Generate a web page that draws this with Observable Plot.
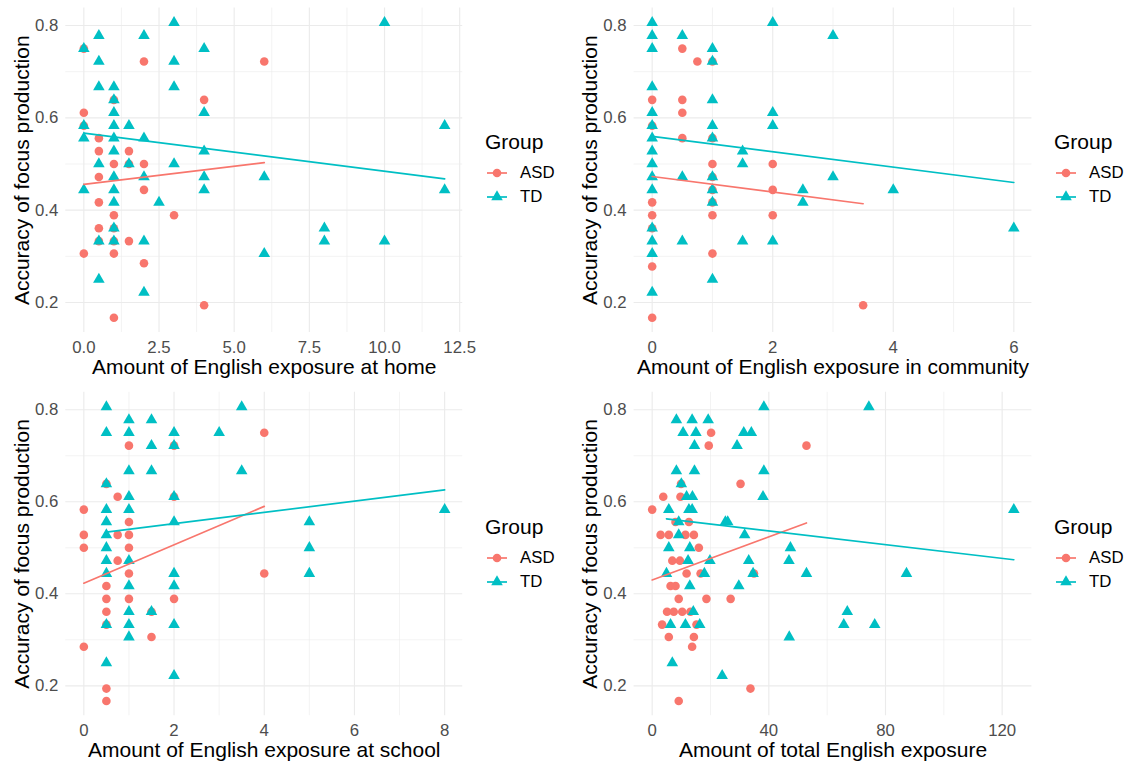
<!DOCTYPE html>
<html>
<head>
<meta charset="utf-8">
<script src="https://cdn.jsdelivr.net/npm/d3@7"></script>
<script src="https://cdn.jsdelivr.net/npm/@observablehq/plot@0.6"></script>
<style>
  html, body { margin: 0; padding: 0; background: white; }
  #root { position: relative; width: 1132px; height: 769px; overflow: hidden; font-family: "Liberation Sans", Arial, sans-serif; }
  .pnl { position: absolute; }
  .lg { position: absolute; font-family: "Liberation Sans", Arial, sans-serif; }
  .lg span { position: absolute; white-space: nowrap; transform: translateY(-50%); }
  .lg svg { position: absolute; transform: translateY(-50%); overflow: visible; }
</style>
</head>
<body>
<div id="root"></div>
<script>
// ---------- data (x = exposure, y = accuracy) ----------
const groups = ["ASD", "TD"];
const groupColors = ["#F8766D", "#00BFC4"];
const yTitle = "Accuracy of focus production";
const yTicks = [0.2, 0.4, 0.6, 0.8];
const yMinor = [0.3, 0.5, 0.7];

// Panel 1: home
const homeASD = [[0,0.75],[2,0.722],[6,0.722],[1,0.639],[4,0.639],[0,0.611],[0,0.583],[0.5,0.556],[0.5,0.528],[1.5,0.528],[1,0.5],[1.5,0.5],[2,0.5],[0.5,0.472],[2,0.444],[0.5,0.417],[1,0.389],[3,0.389],[0.5,0.361],[1,0.361],[0.5,0.333],[1,0.333],[1.5,0.333],[0,0.306],[1,0.306],[2,0.285],[4,0.194],[1,0.167]];
const homeTD = [[3,0.806],[10,0.806],[0.5,0.778],[2,0.778],[0,0.75],[4,0.75],[0.5,0.722],[3,0.722],[0.5,0.667],[1,0.667],[3,0.667],[1,0.639],[1,0.611],[4,0.611],[0,0.583],[1,0.583],[1.5,0.583],[12,0.583],[0,0.556],[1,0.556],[2,0.556],[1,0.528],[4,0.528],[0.5,0.5],[1.5,0.5],[3,0.5],[1,0.472],[2,0.472],[4,0.472],[6,0.472],[0,0.444],[1,0.444],[4,0.444],[12,0.444],[1,0.417],[2.5,0.417],[1,0.361],[8,0.361],[0.5,0.333],[1,0.333],[2,0.333],[8,0.333],[10,0.333],[6,0.306],[0.5,0.25],[2,0.222]];
const homeFitASD = [[0,0.456],[6,0.503]];
const homeFitTD = [[0,0.567],[12,0.468]];
const homeTicks = [0, 2.5, 5, 7.5, 10, 12.5];
const homeMinor = [1.25, 3.75, 6.25, 8.75, 11.25];

// Panel 2: community
const commASD = [[0.5,0.75],[0.75,0.722],[1,0.722],[0,0.639],[0.5,0.639],[0.5,0.611],[0,0.583],[0.5,0.556],[1,0.556],[1,0.5],[2,0.5],[1,0.472],[2,0.444],[1,0.444],[0,0.417],[1,0.417],[0,0.389],[1,0.389],[2,0.389],[0,0.361],[1,0.306],[0,0.278],[3.5,0.194],[0,0.167]];
const commTD = [[0,0.806],[2,0.806],[0,0.778],[0.5,0.778],[3,0.778],[0,0.75],[1,0.75],[1,0.722],[0,0.667],[1,0.639],[0,0.611],[2,0.611],[0,0.583],[1,0.583],[2,0.583],[0,0.556],[1,0.556],[0,0.528],[1.5,0.528],[0,0.5],[1.5,0.5],[0,0.472],[0.5,0.472],[1,0.472],[3,0.472],[0,0.444],[1,0.444],[2.5,0.444],[4,0.444],[1,0.417],[2.5,0.417],[0,0.361],[6,0.361],[0,0.333],[0.5,0.333],[1.5,0.333],[2,0.333],[0,0.306],[1,0.25],[0,0.222]];
const commFitASD = [[0,0.473],[3.5,0.414]];
const commFitTD = [[0,0.56],[6,0.46]];
const commTicks = [0, 2, 4, 6];
const commMinor = [1, 3, 5];

// Panel 3: school
const schoolASD = [[4,0.75],[1,0.722],[2,0.722],[0.5,0.639],[0.75,0.611],[2,0.611],[0,0.583],[1,0.556],[0,0.528],[0.75,0.528],[1,0.528],[0,0.5],[1,0.5],[0.75,0.472],[1,0.444],[4,0.444],[0.5,0.417],[0.5,0.389],[1,0.389],[2,0.389],[0.5,0.361],[1.5,0.361],[0.5,0.333],[1.5,0.306],[0,0.285],[0.5,0.194],[0.5,0.167]];
const schoolTD = [[0.5,0.806],[3.5,0.806],[1,0.778],[1.5,0.778],[0.5,0.75],[1,0.75],[2,0.75],[3,0.75],[1.5,0.722],[2,0.722],[1,0.667],[1.5,0.667],[3.5,0.667],[0.5,0.639],[1,0.611],[2,0.611],[0.5,0.583],[1,0.583],[8,0.583],[0.5,0.556],[2,0.556],[5,0.556],[0.5,0.528],[0.5,0.5],[5,0.5],[0.5,0.472],[1,0.472],[0.5,0.444],[2,0.444],[5,0.444],[1,0.417],[2,0.417],[1,0.361],[1.5,0.361],[0.5,0.333],[1,0.333],[2,0.333],[1,0.306],[0.5,0.25],[2,0.222]];
const schoolFitASD = [[0,0.423],[4,0.590]];
const schoolFitTD = [[0.5,0.534],[8,0.626]];
const schoolTicks = [0, 2, 4, 6, 8];
const schoolMinor = [1, 3, 5, 7];

// Panel 4: total
const totalASD = [[20.2,0.75],[19.4,0.722],[52.9,0.722],[9.9,0.639],[30.3,0.639],[3.8,0.611],[9.7,0.611],[0,0.583],[8,0.556],[12.6,0.556],[2.9,0.528],[5.7,0.528],[11.4,0.528],[14.3,0.528],[16,0.5],[6.9,0.472],[9.5,0.472],[11.8,0.444],[16.6,0.444],[34.9,0.444],[6.3,0.417],[8,0.417],[9.1,0.389],[18.6,0.389],[26.9,0.389],[5.1,0.361],[7.4,0.361],[10.3,0.361],[13.1,0.361],[3.4,0.333],[15.2,0.333],[5.7,0.306],[14.3,0.306],[13.7,0.285],[33.7,0.194],[9.1,0.167]];
const totalTD = [[38.3,0.806],[74.3,0.806],[8.3,0.778],[13.7,0.778],[19.2,0.778],[10.6,0.75],[15,0.75],[31.4,0.75],[34,0.75],[14.5,0.722],[29.1,0.722],[8.3,0.667],[14.5,0.667],[38.3,0.667],[10,0.639],[11.8,0.611],[13.8,0.611],[38,0.611],[5.7,0.583],[12.6,0.583],[13.7,0.583],[124,0.583],[9.1,0.556],[25.1,0.556],[25.9,0.556],[9.1,0.528],[31.7,0.528],[5.7,0.5],[12.9,0.5],[47.4,0.5],[12.3,0.472],[19.8,0.472],[33.1,0.472],[46.9,0.472],[4.9,0.444],[17.9,0.444],[34.6,0.444],[52.9,0.444],[87.2,0.444],[12.9,0.417],[29.7,0.417],[66.9,0.361],[14.1,0.361],[6.3,0.333],[11.4,0.333],[16.3,0.333],[65.7,0.333],[76.3,0.333],[47,0.306],[6.9,0.25],[24,0.222]];
const totalFitASD = [[0,0.430],[52.9,0.554]];
const totalFitTD = [[4.9,0.563],[124,0.474]];
const totalTicks = [0, 40, 80, 120];
const totalMinor = [20, 60, 100];

// ---------- drawing ----------
const FONT = '"Liberation Sans", Arial, sans-serif';
const GRID = "#EBEBEB";
const root = document.getElementById("root");

function pad(domain) { const r = domain[1] - domain[0]; return [domain[0] - 0.05 * r, domain[1] + 0.05 * r]; }

function panel(o) {
  const allY = o.asd.concat(o.td).map(d => d[1]);
  const allX = o.asd.concat(o.td).map(d => d[0]);
  const chart = Plot.plot({
    width: o.width, height: o.height,
    marginLeft: o.mL, marginRight: o.mR, marginTop: o.mT, marginBottom: o.mB,
    style: { fontFamily: FONT, background: "transparent", overflow: "visible" },
    x: { domain: pad(d3.extent(allX)) },
    y: { domain: pad(d3.extent(allY)) },
    marks: [
      Plot.gridX(o.xMinor, { stroke: GRID, strokeOpacity: 1, strokeWidth: 0.6 }),
      Plot.gridY(yMinor, { stroke: GRID, strokeOpacity: 1, strokeWidth: 0.6 }),
      Plot.gridX(o.xTicks, { stroke: GRID, strokeOpacity: 1, strokeWidth: 1.15 }),
      Plot.gridY(yTicks, { stroke: GRID, strokeOpacity: 1, strokeWidth: 1.15 }),
      Plot.axisX({ ticks: o.xTicks, tickFormat: o.fmt, tickSize: 0, tickPadding: 8.5, fontSize: 16.8, color: "#4D4D4D", label: null }),
      Plot.axisY({ ticks: yTicks, tickFormat: d3.format(".1f"), tickSize: 0, tickPadding: 7.5, fontSize: 16.8, color: "#4D4D4D", label: null }),
      Plot.text([o.xTitle], { text: d => d, frameAnchor: "bottom", textAnchor: "middle", lineAnchor: "middle", dy: 35, fontSize: 21, fill: "black" }),
      Plot.text([yTitle], { text: d => d, frameAnchor: "left", textAnchor: "middle", lineAnchor: "middle", dx: -44, rotate: -90, fontSize: 21, fill: "black" }),
      Plot.dot(o.asd, { x: d => d[0], y: d => d[1], r: 4.3, symbol: "circle", fill: groupColors[0], stroke: "none" }),
      Plot.dot(o.td, { x: d => d[0], y: d => d[1], r: 4.3, symbol: "triangle", fill: groupColors[1], stroke: "none" }),
      Plot.line(o.fitA, { x: d => d[0], y: d => d[1], stroke: groupColors[0], strokeWidth: 1.7 }),
      Plot.line(o.fitT, { x: d => d[0], y: d => d[1], stroke: groupColors[1], strokeWidth: 1.7 })
    ]
  });
  const wrap = document.createElement("div");
  wrap.className = "pnl";
  wrap.style.left = o.left + "px";
  wrap.style.top = o.top + "px";
  wrap.appendChild(chart);
  root.appendChild(wrap);

  // legend
  const lg = document.createElement("div");
  lg.className = "lg";
  lg.style.left = o.lgX + "px";
  lg.style.top = o.lgY + "px";
  const t = document.createElement("span");
  t.textContent = "Group"; t.style.left = "0px"; t.style.top = "0px"; t.style.fontSize = "21px";
  lg.appendChild(t);
  groups.forEach((g, i) => {
    const yy = 31.3 + i * 23.8;
    const ns = "http://www.w3.org/2000/svg";
    const svg = document.createElementNS(ns, "svg");
    svg.setAttribute("width", 22); svg.setAttribute("height", 14);
    svg.style.left = "1px"; svg.style.top = yy + "px";
    const ln = document.createElementNS(ns, "line");
    ln.setAttribute("x1", 1); ln.setAttribute("x2", 21); ln.setAttribute("y1", 7); ln.setAttribute("y2", 7);
    ln.setAttribute("stroke", groupColors[i]); ln.setAttribute("stroke-width", 1.7);
    svg.appendChild(ln);
    const p = document.createElementNS(ns, "path");
    p.setAttribute("d", d3.symbol(i === 0 ? d3.symbolCircle : d3.symbolTriangle, Math.PI * 4.3 * 4.3)());
    p.setAttribute("transform", "translate(11,7)");
    p.setAttribute("fill", groupColors[i]);
    svg.appendChild(p);
    lg.appendChild(svg);
    const s = document.createElement("span");
    s.textContent = g; s.style.left = "35px"; s.style.top = yy + "px"; s.style.fontSize = "16.8px";
    lg.appendChild(s);
  });
  root.appendChild(lg);
}

const f1 = d3.format(".1f");
const f0 = d3.format("d");
panel({ asd: homeASD, td: homeTD, fitA: homeFitASD, fitT: homeFitTD, xTicks: homeTicks, xMinor: homeMinor, fmt: f1,
  xTitle: "Amount of English exposure at home", left: 0, top: 0, width: 470, height: 385, mL: 65.3, mR: 7.8, mT: 7.5, mB: 53, lgX: 485, lgY: 141.7 });
panel({ asd: commASD, td: commTD, fitA: commFitASD, fitT: commFitTD, xTicks: commTicks, xMinor: commMinor, fmt: f0,
  xTitle: "Amount of English exposure in community", left: 566, top: 0, width: 470, height: 385, mL: 67.6, mR: 4.6, mT: 7.5, mB: 53, lgX: 1054, lgY: 141.7 });
panel({ asd: schoolASD, td: schoolTD, fitA: schoolFitASD, fitT: schoolFitTD, xTicks: schoolTicks, xMinor: schoolMinor, fmt: f0,
  xTitle: "Amount of English exposure at school", left: 0, top: 384, width: 470, height: 384.5, mL: 65.3, mR: 7.8, mT: 7.8, mB: 53.3, lgX: 485, lgY: 526.5 });
panel({ asd: totalASD, td: totalTD, fitA: totalFitASD, fitT: totalFitTD, xTicks: totalTicks, xMinor: totalMinor, fmt: f0,
  xTitle: "Amount of total English exposure", left: 566, top: 384, width: 470, height: 384.5, mL: 67.6, mR: 4.6, mT: 7.8, mB: 53.3, lgX: 1054, lgY: 526.5 });
</script>
</body>
</html>
